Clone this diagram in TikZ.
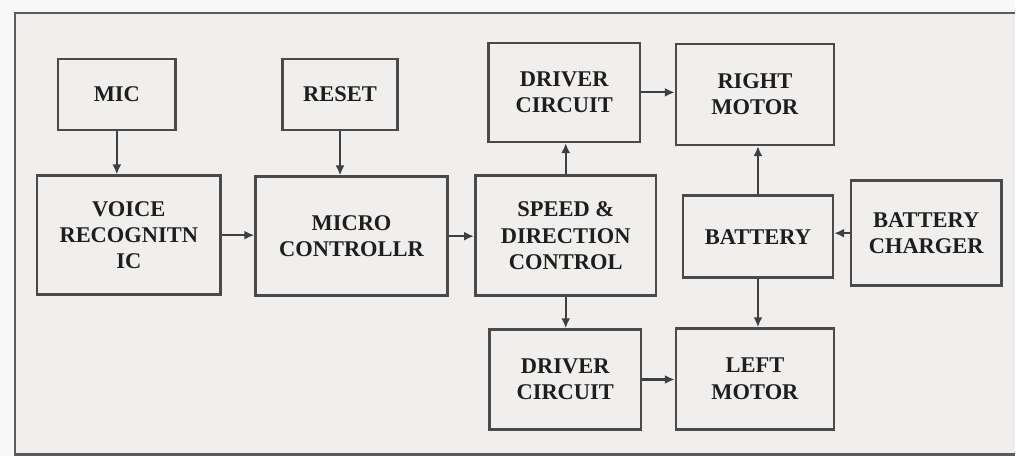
\documentclass[tikz,border=0pt]{standalone}
\usepackage{fontspec}
\setmainfont{Liberation Serif}
\usetikzlibrary{arrows.meta}
\definecolor{paper}{HTML}{F0EFEE}
\definecolor{outer}{HTML}{F8F8F8}
\definecolor{ink}{HTML}{4A4A4A}
\definecolor{txt}{HTML}{1E1E1E}
\begin{document}
\begin{tikzpicture}[x=1pt,y=-1pt,
  blk/.style={draw=ink, line width=2.6pt, fill=paper, align=center,
    inner sep=0pt, text=txt,
    font=\fontsize{22.5}{26.5}\selectfont\bfseries},
  link/.style={draw=ink!85!black, line width=2.2pt,
    -{Latex[length=10pt,width=9pt]}}]
  % page and outer frame (open on the right)
  \fill[outer] (0,0) rectangle (1016,457);
  \fill[paper] (15,13) rectangle (1016,455);
  \draw[ink!90, line width=2.8pt] (1016,13) -- (15,13) -- (15,455) -- (1016,455);
  \useasboundingbox (0,0) rectangle (1016,457);

  % blocks
  \node[blk, minimum width=118pt, minimum height=71pt]  (mic)   at (117,94.5)   {MIC};
  \node[blk, minimum width=184pt, minimum height=119pt] (voice) at (129,235.5)  {VOICE\\RECOGNITN\\IC};
  \node[blk, minimum width=115pt, minimum height=71pt]  (reset) at (340.5,94.5) {RESET};
  \node[blk, minimum width=192pt, minimum height=119pt] (micro) at (352,236.5)  {MICRO\\CONTROLLR};
  \node[blk, minimum width=181pt, minimum height=120pt] (speed) at (566.5,236)  {SPEED \&\\DIRECTION\\CONTROL};
  \node[blk, minimum width=152pt, minimum height=99pt]  (drvT)  at (565,92.5)   {DRIVER\\CIRCUIT};
  \node[blk, minimum width=158pt, minimum height=101pt] (rmot)  at (756,94.5)   {RIGHT\\MOTOR};
  \node[blk, minimum width=150pt, minimum height=82pt]  (batt)  at (759,237)    {BATTERY};
  \node[blk, minimum width=151pt, minimum height=105pt] (chg)   at (927.5,233.5){BATTERY\\CHARGER};
  \node[blk, minimum width=152pt, minimum height=100pt] (drvB)  at (566,380)    {DRIVER\\CIRCUIT};
  \node[blk, minimum width=158pt, minimum height=101pt] (lmot)  at (756,379.5)  {LEFT\\MOTOR};

  % connections
  \draw[link] (mic.south) -- (mic.south |- voice.north);
  \draw[link] (reset.south) -- (reset.south |- micro.north);
  \draw[link] (voice.east) -- (voice.east -| micro.west);
  \draw[link] (micro.east) -- (micro.east -| speed.west);
  \draw[link] (speed.north) -- (speed.north |- drvT.south);
  \draw[link] (speed.south) -- (speed.south |- drvB.north);
  \draw[link] (drvT.east) -- (drvT.east -| rmot.west);
  \draw[link] (drvB.east) -- (drvB.east -| lmot.west);
  \draw[link] (batt.north) -- (batt.north |- rmot.south);
  \draw[link] (batt.south) -- (batt.south |- lmot.north);
  \draw[link] (chg.west) -- (chg.west -| batt.east);
\end{tikzpicture}
\end{document}
